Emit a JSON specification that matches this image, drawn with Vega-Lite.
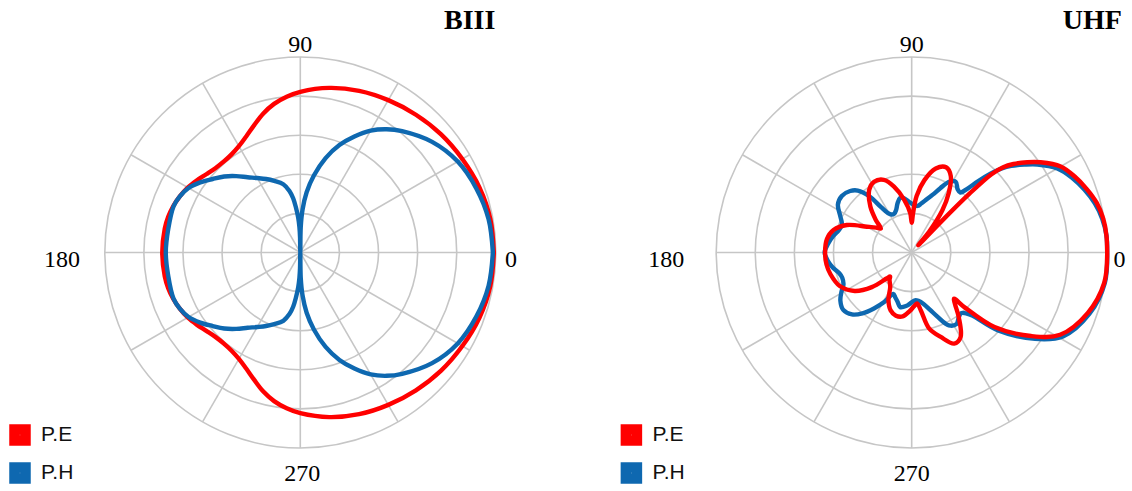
{
  "$schema": "https://vega.github.io/schema/vega-lite/v6.json",
  "background": "white",
  "padding": 0,
  "spacing": 10.4,
  "config": {"view": {"stroke": null}},
  "resolve": {"legend": {"color": "independent"}},
  "datasets": {
    "rings": [{"ring": 0.2}, {"ring": 0.4}, {"ring": 0.6}, {"ring": 0.8}, {"ring": 1.0}],
    "spokes": [{"angle": 0}, {"angle": 30}, {"angle": 60}, {"angle": 90}, {"angle": 120}, {"angle": 150}],
    "pattern": [
      {"chart": "BIII", "series": "P.E", "angle": 0, "r": 0.99},
      {"chart": "BIII", "series": "P.E", "angle": 10, "r": 0.987},
      {"chart": "BIII", "series": "P.E", "angle": 20, "r": 0.975},
      {"chart": "BIII", "series": "P.E", "angle": 30, "r": 0.957},
      {"chart": "BIII", "series": "P.E", "angle": 40, "r": 0.94},
      {"chart": "BIII", "series": "P.E", "angle": 50, "r": 0.92},
      {"chart": "BIII", "series": "P.E", "angle": 60, "r": 0.9},
      {"chart": "BIII", "series": "P.E", "angle": 70, "r": 0.88},
      {"chart": "BIII", "series": "P.E", "angle": 80, "r": 0.855},
      {"chart": "BIII", "series": "P.E", "angle": 90, "r": 0.822},
      {"chart": "BIII", "series": "P.E", "angle": 95, "r": 0.8},
      {"chart": "BIII", "series": "P.E", "angle": 100, "r": 0.772},
      {"chart": "BIII", "series": "P.E", "angle": 105, "r": 0.735},
      {"chart": "BIII", "series": "P.E", "angle": 110, "r": 0.692},
      {"chart": "BIII", "series": "P.E", "angle": 115, "r": 0.655},
      {"chart": "BIII", "series": "P.E", "angle": 120, "r": 0.628},
      {"chart": "BIII", "series": "P.E", "angle": 125, "r": 0.613},
      {"chart": "BIII", "series": "P.E", "angle": 130, "r": 0.608},
      {"chart": "BIII", "series": "P.E", "angle": 135, "r": 0.612},
      {"chart": "BIII", "series": "P.E", "angle": 140, "r": 0.625},
      {"chart": "BIII", "series": "P.E", "angle": 145, "r": 0.645},
      {"chart": "BIII", "series": "P.E", "angle": 150, "r": 0.665},
      {"chart": "BIII", "series": "P.E", "angle": 155, "r": 0.68},
      {"chart": "BIII", "series": "P.E", "angle": 160, "r": 0.692},
      {"chart": "BIII", "series": "P.E", "angle": 165, "r": 0.7},
      {"chart": "BIII", "series": "P.E", "angle": 170, "r": 0.704},
      {"chart": "BIII", "series": "P.E", "angle": 180, "r": 0.706},
      {"chart": "BIII", "series": "P.E", "angle": 190, "r": 0.704},
      {"chart": "BIII", "series": "P.E", "angle": 195, "r": 0.7},
      {"chart": "BIII", "series": "P.E", "angle": 200, "r": 0.692},
      {"chart": "BIII", "series": "P.E", "angle": 205, "r": 0.68},
      {"chart": "BIII", "series": "P.E", "angle": 210, "r": 0.665},
      {"chart": "BIII", "series": "P.E", "angle": 215, "r": 0.645},
      {"chart": "BIII", "series": "P.E", "angle": 220, "r": 0.625},
      {"chart": "BIII", "series": "P.E", "angle": 225, "r": 0.612},
      {"chart": "BIII", "series": "P.E", "angle": 230, "r": 0.608},
      {"chart": "BIII", "series": "P.E", "angle": 235, "r": 0.613},
      {"chart": "BIII", "series": "P.E", "angle": 240, "r": 0.628},
      {"chart": "BIII", "series": "P.E", "angle": 245, "r": 0.655},
      {"chart": "BIII", "series": "P.E", "angle": 250, "r": 0.692},
      {"chart": "BIII", "series": "P.E", "angle": 255, "r": 0.735},
      {"chart": "BIII", "series": "P.E", "angle": 260, "r": 0.772},
      {"chart": "BIII", "series": "P.E", "angle": 265, "r": 0.8},
      {"chart": "BIII", "series": "P.E", "angle": 270, "r": 0.822},
      {"chart": "BIII", "series": "P.E", "angle": 280, "r": 0.855},
      {"chart": "BIII", "series": "P.E", "angle": 290, "r": 0.88},
      {"chart": "BIII", "series": "P.E", "angle": 300, "r": 0.9},
      {"chart": "BIII", "series": "P.E", "angle": 310, "r": 0.92},
      {"chart": "BIII", "series": "P.E", "angle": 320, "r": 0.94},
      {"chart": "BIII", "series": "P.E", "angle": 330, "r": 0.957},
      {"chart": "BIII", "series": "P.E", "angle": 340, "r": 0.975},
      {"chart": "BIII", "series": "P.E", "angle": 350, "r": 0.987},
      {"chart": "BIII", "series": "P.E", "angle": 360, "r": 0.99},

      {"chart": "BIII", "series": "P.H", "angle": 0, "r": 0.985},
      {"chart": "BIII", "series": "P.H", "angle": 10, "r": 0.978},
      {"chart": "BIII", "series": "P.H", "angle": 20, "r": 0.958},
      {"chart": "BIII", "series": "P.H", "angle": 30, "r": 0.93},
      {"chart": "BIII", "series": "P.H", "angle": 40, "r": 0.88},
      {"chart": "BIII", "series": "P.H", "angle": 50, "r": 0.81},
      {"chart": "BIII", "series": "P.H", "angle": 55, "r": 0.77},
      {"chart": "BIII", "series": "P.H", "angle": 60, "r": 0.72},
      {"chart": "BIII", "series": "P.H", "angle": 65, "r": 0.655},
      {"chart": "BIII", "series": "P.H", "angle": 70, "r": 0.585},
      {"chart": "BIII", "series": "P.H", "angle": 75, "r": 0.5},
      {"chart": "BIII", "series": "P.H", "angle": 80, "r": 0.4},
      {"chart": "BIII", "series": "P.H", "angle": 84, "r": 0.31},
      {"chart": "BIII", "series": "P.H", "angle": 87, "r": 0.22},
      {"chart": "BIII", "series": "P.H", "angle": 89, "r": 0.13},
      {"chart": "BIII", "series": "P.H", "angle": 90, "r": 0.0},
      {"chart": "BIII", "series": "P.H", "angle": 91, "r": 0.08},
      {"chart": "BIII", "series": "P.H", "angle": 92, "r": 0.13},
      {"chart": "BIII", "series": "P.H", "angle": 93.5, "r": 0.18},
      {"chart": "BIII", "series": "P.H", "angle": 95.5, "r": 0.23},
      {"chart": "BIII", "series": "P.H", "angle": 97.5, "r": 0.28},
      {"chart": "BIII", "series": "P.H", "angle": 100, "r": 0.32},
      {"chart": "BIII", "series": "P.H", "angle": 104, "r": 0.36},
      {"chart": "BIII", "series": "P.H", "angle": 110, "r": 0.39},
      {"chart": "BIII", "series": "P.H", "angle": 115, "r": 0.415},
      {"chart": "BIII", "series": "P.H", "angle": 120, "r": 0.44},
      {"chart": "BIII", "series": "P.H", "angle": 125, "r": 0.47},
      {"chart": "BIII", "series": "P.H", "angle": 130, "r": 0.51},
      {"chart": "BIII", "series": "P.H", "angle": 135, "r": 0.55},
      {"chart": "BIII", "series": "P.H", "angle": 140, "r": 0.585},
      {"chart": "BIII", "series": "P.H", "angle": 145, "r": 0.625},
      {"chart": "BIII", "series": "P.H", "angle": 150, "r": 0.66},
      {"chart": "BIII", "series": "P.H", "angle": 155, "r": 0.68},
      {"chart": "BIII", "series": "P.H", "angle": 160, "r": 0.69},
      {"chart": "BIII", "series": "P.H", "angle": 170, "r": 0.686},
      {"chart": "BIII", "series": "P.H", "angle": 180, "r": 0.688},
      {"chart": "BIII", "series": "P.H", "angle": 190, "r": 0.686},
      {"chart": "BIII", "series": "P.H", "angle": 200, "r": 0.69},
      {"chart": "BIII", "series": "P.H", "angle": 205, "r": 0.68},
      {"chart": "BIII", "series": "P.H", "angle": 210, "r": 0.66},
      {"chart": "BIII", "series": "P.H", "angle": 215, "r": 0.625},
      {"chart": "BIII", "series": "P.H", "angle": 220, "r": 0.585},
      {"chart": "BIII", "series": "P.H", "angle": 225, "r": 0.55},
      {"chart": "BIII", "series": "P.H", "angle": 230, "r": 0.51},
      {"chart": "BIII", "series": "P.H", "angle": 235, "r": 0.47},
      {"chart": "BIII", "series": "P.H", "angle": 240, "r": 0.44},
      {"chart": "BIII", "series": "P.H", "angle": 245, "r": 0.415},
      {"chart": "BIII", "series": "P.H", "angle": 250, "r": 0.39},
      {"chart": "BIII", "series": "P.H", "angle": 256, "r": 0.36},
      {"chart": "BIII", "series": "P.H", "angle": 260, "r": 0.32},
      {"chart": "BIII", "series": "P.H", "angle": 262.5, "r": 0.28},
      {"chart": "BIII", "series": "P.H", "angle": 264.5, "r": 0.23},
      {"chart": "BIII", "series": "P.H", "angle": 266.5, "r": 0.18},
      {"chart": "BIII", "series": "P.H", "angle": 268, "r": 0.13},
      {"chart": "BIII", "series": "P.H", "angle": 269, "r": 0.08},
      {"chart": "BIII", "series": "P.H", "angle": 270, "r": 0.0},
      {"chart": "BIII", "series": "P.H", "angle": 271, "r": 0.13},
      {"chart": "BIII", "series": "P.H", "angle": 273, "r": 0.22},
      {"chart": "BIII", "series": "P.H", "angle": 276, "r": 0.31},
      {"chart": "BIII", "series": "P.H", "angle": 280, "r": 0.4},
      {"chart": "BIII", "series": "P.H", "angle": 285, "r": 0.5},
      {"chart": "BIII", "series": "P.H", "angle": 290, "r": 0.585},
      {"chart": "BIII", "series": "P.H", "angle": 295, "r": 0.655},
      {"chart": "BIII", "series": "P.H", "angle": 300, "r": 0.72},
      {"chart": "BIII", "series": "P.H", "angle": 305, "r": 0.77},
      {"chart": "BIII", "series": "P.H", "angle": 310, "r": 0.81},
      {"chart": "BIII", "series": "P.H", "angle": 320, "r": 0.88},
      {"chart": "BIII", "series": "P.H", "angle": 330, "r": 0.93},
      {"chart": "BIII", "series": "P.H", "angle": 340, "r": 0.958},
      {"chart": "BIII", "series": "P.H", "angle": 350, "r": 0.978},
      {"chart": "BIII", "series": "P.H", "angle": 360, "r": 0.985},

      {"chart": "UHF", "series": "P.E", "angle": 0, "r": 1.0},
      {"chart": "UHF", "series": "P.E", "angle": 5, "r": 1.0},
      {"chart": "UHF", "series": "P.E", "angle": 10, "r": 0.995},
      {"chart": "UHF", "series": "P.E", "angle": 15, "r": 0.98},
      {"chart": "UHF", "series": "P.E", "angle": 20, "r": 0.952},
      {"chart": "UHF", "series": "P.E", "angle": 25, "r": 0.92},
      {"chart": "UHF", "series": "P.E", "angle": 30, "r": 0.88},
      {"chart": "UHF", "series": "P.E", "angle": 35, "r": 0.805},
      {"chart": "UHF", "series": "P.E", "angle": 38, "r": 0.75},
      {"chart": "UHF", "series": "P.E", "angle": 41, "r": 0.69},
      {"chart": "UHF", "series": "P.E", "angle": 43, "r": 0.64},
      {"chart": "UHF", "series": "P.E", "angle": 44.5, "r": 0.57},
      {"chart": "UHF", "series": "P.E", "angle": 45.5, "r": 0.42},
      {"chart": "UHF", "series": "P.E", "angle": 46.3, "r": 0.22},
      {"chart": "UHF", "series": "P.E", "angle": 47, "r": 0.06},
      {"chart": "UHF", "series": "P.E", "angle": 48, "r": 0.05},
      {"chart": "UHF", "series": "P.E", "angle": 50, "r": 0.14},
      {"chart": "UHF", "series": "P.E", "angle": 54, "r": 0.267},
      {"chart": "UHF", "series": "P.E", "angle": 58, "r": 0.357},
      {"chart": "UHF", "series": "P.E", "angle": 63, "r": 0.44},
      {"chart": "UHF", "series": "P.E", "angle": 68, "r": 0.47},
      {"chart": "UHF", "series": "P.E", "angle": 74, "r": 0.447},
      {"chart": "UHF", "series": "P.E", "angle": 80, "r": 0.376},
      {"chart": "UHF", "series": "P.E", "angle": 85, "r": 0.29},
      {"chart": "UHF", "series": "P.E", "angle": 88, "r": 0.2},
      {"chart": "UHF", "series": "P.E", "angle": 90, "r": 0.152},
      {"chart": "UHF", "series": "P.E", "angle": 92, "r": 0.2},
      {"chart": "UHF", "series": "P.E", "angle": 98, "r": 0.272},
      {"chart": "UHF", "series": "P.E", "angle": 105, "r": 0.349},
      {"chart": "UHF", "series": "P.E", "angle": 111, "r": 0.398},
      {"chart": "UHF", "series": "P.E", "angle": 118, "r": 0.41},
      {"chart": "UHF", "series": "P.E", "angle": 124, "r": 0.388},
      {"chart": "UHF", "series": "P.E", "angle": 132, "r": 0.316},
      {"chart": "UHF", "series": "P.E", "angle": 138, "r": 0.245},
      {"chart": "UHF", "series": "P.E", "angle": 142, "r": 0.2},
      {"chart": "UHF", "series": "P.E", "angle": 145, "r": 0.222},
      {"chart": "UHF", "series": "P.E", "angle": 150, "r": 0.264},
      {"chart": "UHF", "series": "P.E", "angle": 157, "r": 0.36},
      {"chart": "UHF", "series": "P.E", "angle": 164, "r": 0.416},
      {"chart": "UHF", "series": "P.E", "angle": 171, "r": 0.439},
      {"chart": "UHF", "series": "P.E", "angle": 180, "r": 0.443},
      {"chart": "UHF", "series": "P.E", "angle": 188, "r": 0.44},
      {"chart": "UHF", "series": "P.E", "angle": 195, "r": 0.43},
      {"chart": "UHF", "series": "P.E", "angle": 205, "r": 0.406},
      {"chart": "UHF", "series": "P.E", "angle": 214, "r": 0.352},
      {"chart": "UHF", "series": "P.E", "angle": 221, "r": 0.27},
      {"chart": "UHF", "series": "P.E", "angle": 226, "r": 0.185},
      {"chart": "UHF", "series": "P.E", "angle": 228, "r": 0.165},
      {"chart": "UHF", "series": "P.E", "angle": 231, "r": 0.18},
      {"chart": "UHF", "series": "P.E", "angle": 238, "r": 0.207},
      {"chart": "UHF", "series": "P.E", "angle": 244, "r": 0.271},
      {"chart": "UHF", "series": "P.E", "angle": 250, "r": 0.315},
      {"chart": "UHF", "series": "P.E", "angle": 256, "r": 0.333},
      {"chart": "UHF", "series": "P.E", "angle": 262, "r": 0.33},
      {"chart": "UHF", "series": "P.E", "angle": 268, "r": 0.3},
      {"chart": "UHF", "series": "P.E", "angle": 272, "r": 0.278},
      {"chart": "UHF", "series": "P.E", "angle": 276, "r": 0.262},
      {"chart": "UHF", "series": "P.E", "angle": 279, "r": 0.3},
      {"chart": "UHF", "series": "P.E", "angle": 283, "r": 0.4},
      {"chart": "UHF", "series": "P.E", "angle": 289, "r": 0.457},
      {"chart": "UHF", "series": "P.E", "angle": 295, "r": 0.514},
      {"chart": "UHF", "series": "P.E", "angle": 300, "r": 0.5},
      {"chart": "UHF", "series": "P.E", "angle": 306, "r": 0.41},
      {"chart": "UHF", "series": "P.E", "angle": 310, "r": 0.345},
      {"chart": "UHF", "series": "P.E", "angle": 312.5, "r": 0.32},
      {"chart": "UHF", "series": "P.E", "angle": 314, "r": 0.39},
      {"chart": "UHF", "series": "P.E", "angle": 318, "r": 0.57},
      {"chart": "UHF", "series": "P.E", "angle": 325, "r": 0.745},
      {"chart": "UHF", "series": "P.E", "angle": 331, "r": 0.868},
      {"chart": "UHF", "series": "P.E", "angle": 341, "r": 0.952},
      {"chart": "UHF", "series": "P.E", "angle": 351, "r": 0.997},
      {"chart": "UHF", "series": "P.E", "angle": 360, "r": 1.0},

      {"chart": "UHF", "series": "P.H", "angle": 0, "r": 1.0},
      {"chart": "UHF", "series": "P.H", "angle": 5, "r": 1.0},
      {"chart": "UHF", "series": "P.H", "angle": 10, "r": 0.99},
      {"chart": "UHF", "series": "P.H", "angle": 15, "r": 0.97},
      {"chart": "UHF", "series": "P.H", "angle": 20, "r": 0.94},
      {"chart": "UHF", "series": "P.H", "angle": 25, "r": 0.905},
      {"chart": "UHF", "series": "P.H", "angle": 30, "r": 0.86},
      {"chart": "UHF", "series": "P.H", "angle": 35, "r": 0.785},
      {"chart": "UHF", "series": "P.H", "angle": 38, "r": 0.73},
      {"chart": "UHF", "series": "P.H", "angle": 41, "r": 0.675},
      {"chart": "UHF", "series": "P.H", "angle": 43, "r": 0.63},
      {"chart": "UHF", "series": "P.H", "angle": 45, "r": 0.57},
      {"chart": "UHF", "series": "P.H", "angle": 47, "r": 0.5},
      {"chart": "UHF", "series": "P.H", "angle": 49, "r": 0.43},
      {"chart": "UHF", "series": "P.H", "angle": 51, "r": 0.395},
      {"chart": "UHF", "series": "P.H", "angle": 54, "r": 0.4},
      {"chart": "UHF", "series": "P.H", "angle": 58, "r": 0.426},
      {"chart": "UHF", "series": "P.H", "angle": 62, "r": 0.41},
      {"chart": "UHF", "series": "P.H", "angle": 66, "r": 0.36},
      {"chart": "UHF", "series": "P.H", "angle": 70, "r": 0.315},
      {"chart": "UHF", "series": "P.H", "angle": 74, "r": 0.285},
      {"chart": "UHF", "series": "P.H", "angle": 79, "r": 0.255},
      {"chart": "UHF", "series": "P.H", "angle": 83, "r": 0.24},
      {"chart": "UHF", "series": "P.H", "angle": 88, "r": 0.245},
      {"chart": "UHF", "series": "P.H", "angle": 93, "r": 0.26},
      {"chart": "UHF", "series": "P.H", "angle": 98, "r": 0.28},
      {"chart": "UHF", "series": "P.H", "angle": 102, "r": 0.285},
      {"chart": "UHF", "series": "P.H", "angle": 106, "r": 0.262},
      {"chart": "UHF", "series": "P.H", "angle": 110, "r": 0.232},
      {"chart": "UHF", "series": "P.H", "angle": 114, "r": 0.218},
      {"chart": "UHF", "series": "P.H", "angle": 118, "r": 0.22},
      {"chart": "UHF", "series": "P.H", "angle": 121, "r": 0.235},
      {"chart": "UHF", "series": "P.H", "angle": 124, "r": 0.28},
      {"chart": "UHF", "series": "P.H", "angle": 127, "r": 0.36},
      {"chart": "UHF", "series": "P.H", "angle": 131, "r": 0.42},
      {"chart": "UHF", "series": "P.H", "angle": 135, "r": 0.445},
      {"chart": "UHF", "series": "P.H", "angle": 141, "r": 0.46},
      {"chart": "UHF", "series": "P.H", "angle": 147, "r": 0.45},
      {"chart": "UHF", "series": "P.H", "angle": 153, "r": 0.41},
      {"chart": "UHF", "series": "P.H", "angle": 158, "r": 0.385},
      {"chart": "UHF", "series": "P.H", "angle": 163, "r": 0.39},
      {"chart": "UHF", "series": "P.H", "angle": 168, "r": 0.41},
      {"chart": "UHF", "series": "P.H", "angle": 174, "r": 0.43},
      {"chart": "UHF", "series": "P.H", "angle": 180, "r": 0.445},
      {"chart": "UHF", "series": "P.H", "angle": 186, "r": 0.43},
      {"chart": "UHF", "series": "P.H", "angle": 191, "r": 0.41},
      {"chart": "UHF", "series": "P.H", "angle": 196, "r": 0.385},
      {"chart": "UHF", "series": "P.H", "angle": 200, "r": 0.378},
      {"chart": "UHF", "series": "P.H", "angle": 205, "r": 0.385},
      {"chart": "UHF", "series": "P.H", "angle": 209, "r": 0.41},
      {"chart": "UHF", "series": "P.H", "angle": 214, "r": 0.44},
      {"chart": "UHF", "series": "P.H", "angle": 220, "r": 0.457},
      {"chart": "UHF", "series": "P.H", "angle": 226, "r": 0.44},
      {"chart": "UHF", "series": "P.H", "angle": 231, "r": 0.4},
      {"chart": "UHF", "series": "P.H", "angle": 236, "r": 0.345},
      {"chart": "UHF", "series": "P.H", "angle": 241, "r": 0.29},
      {"chart": "UHF", "series": "P.H", "angle": 246, "r": 0.232},
      {"chart": "UHF", "series": "P.H", "angle": 250, "r": 0.245},
      {"chart": "UHF", "series": "P.H", "angle": 254, "r": 0.262},
      {"chart": "UHF", "series": "P.H", "angle": 258, "r": 0.285},
      {"chart": "UHF", "series": "P.H", "angle": 262, "r": 0.28},
      {"chart": "UHF", "series": "P.H", "angle": 266, "r": 0.27},
      {"chart": "UHF", "series": "P.H", "angle": 270, "r": 0.255},
      {"chart": "UHF", "series": "P.H", "angle": 274, "r": 0.245},
      {"chart": "UHF", "series": "P.H", "angle": 278, "r": 0.25},
      {"chart": "UHF", "series": "P.H", "angle": 283, "r": 0.27},
      {"chart": "UHF", "series": "P.H", "angle": 288, "r": 0.31},
      {"chart": "UHF", "series": "P.H", "angle": 292, "r": 0.355},
      {"chart": "UHF", "series": "P.H", "angle": 297, "r": 0.418},
      {"chart": "UHF", "series": "P.H", "angle": 302, "r": 0.432},
      {"chart": "UHF", "series": "P.H", "angle": 306, "r": 0.41},
      {"chart": "UHF", "series": "P.H", "angle": 309, "r": 0.4},
      {"chart": "UHF", "series": "P.H", "angle": 312, "r": 0.42},
      {"chart": "UHF", "series": "P.H", "angle": 314, "r": 0.45},
      {"chart": "UHF", "series": "P.H", "angle": 318, "r": 0.595},
      {"chart": "UHF", "series": "P.H", "angle": 325, "r": 0.77},
      {"chart": "UHF", "series": "P.H", "angle": 331, "r": 0.885},
      {"chart": "UHF", "series": "P.H", "angle": 341, "r": 0.962},
      {"chart": "UHF", "series": "P.H", "angle": 351, "r": 1.0},
      {"chart": "UHF", "series": "P.H", "angle": 360, "r": 1.0}
    ]
  },
  "hconcat": [
    {
      "width": 600.6,
      "height": 491,
      "layer": [
        {
          "data": {"name": "rings"},
          "mark": {"type": "point", "shape": "circle", "filled": false, "stroke": "#c6c6c6", "strokeWidth": 1.6, "opacity": 1},
          "encoding": {
            "x": {"datum": 0, "type": "quantitative", "scale": {"domain": [-1.536, 1.536], "nice": false, "zero": false}, "axis": null},
            "y": {"datum": 0, "type": "quantitative", "scale": {"domain": [-1.2199, 1.2916], "nice": false, "zero": false}, "axis": null},
            "size": {"field": "ring", "type": "quantitative", "scale": {"type": "pow", "exponent": 2, "domain": [0, 1], "range": [0, 152881]}, "legend": null}
          }
        },
        {
          "data": {"name": "spokes"},
          "transform": [
            {"calculate": "cos(datum.angle * PI / 180)", "as": "ax"},
            {"calculate": "sin(datum.angle * PI / 180)", "as": "ay"},
            {"calculate": "-cos(datum.angle * PI / 180)", "as": "bx"},
            {"calculate": "-sin(datum.angle * PI / 180)", "as": "by"}
          ],
          "mark": {"type": "rule", "stroke": "#c6c6c6", "strokeWidth": 1.6},
          "encoding": {
            "x": {"field": "ax", "type": "quantitative"},
            "y": {"field": "ay", "type": "quantitative"},
            "x2": {"field": "bx"},
            "y2": {"field": "by"}
          }
        },
        {
          "data": {"name": "pattern"},
          "transform": [
            {"filter": "datum.chart === 'BIII' && datum.series === 'P.E'"},
            {"calculate": "datum.r * cos(datum.angle * PI / 180)", "as": "px"},
            {"calculate": "datum.r * sin(datum.angle * PI / 180)", "as": "py"}
          ],
          "mark": {"type": "line", "interpolate": "catmull-rom", "strokeWidth": 4.4, "strokeJoin": "round", "strokeCap": "round"},
          "encoding": {
            "x": {"field": "px", "type": "quantitative"},
            "y": {"field": "py", "type": "quantitative"},
            "order": {"field": "angle", "type": "quantitative"},
            "color": {"field": "series", "type": "nominal", "scale": {"domain": ["P.E", "P.H"], "range": ["#ff0000", "#0e68b0"]},
              "legend": {"title": null, "orient": "none", "legendX": 9, "legendY": 424, "padding": 0, "symbolType": "square", "symbolSize": 121, "symbolStrokeWidth": 10.5, "labelFont": "Liberation Sans", "labelFontSize": 21, "labelColor": "#111", "labelOffset": 10, "rowPadding": -17}}
          }
        },
        {
          "data": {"name": "pattern"},
          "transform": [
            {"filter": "datum.chart === 'BIII' && datum.series === 'P.H'"},
            {"calculate": "datum.r * cos(datum.angle * PI / 180)", "as": "px"},
            {"calculate": "datum.r * sin(datum.angle * PI / 180)", "as": "py"}
          ],
          "mark": {"type": "line", "interpolate": "catmull-rom", "strokeWidth": 4.4, "strokeJoin": "round", "strokeCap": "round"},
          "encoding": {
            "x": {"field": "px", "type": "quantitative"},
            "y": {"field": "py", "type": "quantitative"},
            "order": {"field": "angle", "type": "quantitative"},
            "color": {"field": "series", "type": "nominal"}
          }
        },
        {
          "data": {"values": [{"label": "90", "lx": 0, "ly": 1.028}]},
          "mark": {"type": "text", "font": "Liberation Serif", "fontSize": 24, "align": "center", "baseline": "alphabetic", "color": "#000"},
          "encoding": {"x": {"field": "lx", "type": "quantitative"}, "y": {"field": "ly", "type": "quantitative"}, "text": {"field": "label"}}
        },
        {
          "data": {"values": [{"label": "270", "lx": 0.01, "ly": -1.169}]},
          "mark": {"type": "text", "font": "Liberation Serif", "fontSize": 24, "align": "center", "baseline": "alphabetic", "color": "#000"},
          "encoding": {"x": {"field": "lx", "type": "quantitative"}, "y": {"field": "ly", "type": "quantitative"}, "text": {"field": "label"}}
        },
        {
          "data": {"values": [{"label": "180", "lx": -1.127, "ly": -0.0716}]},
          "mark": {"type": "text", "font": "Liberation Serif", "fontSize": 24, "align": "right", "baseline": "alphabetic", "color": "#000"},
          "encoding": {"x": {"field": "lx", "type": "quantitative"}, "y": {"field": "ly", "type": "quantitative"}, "text": {"field": "label"}}
        },
        {
          "data": {"values": [{"label": "0", "lx": 1.047, "ly": -0.0716}]},
          "mark": {"type": "text", "font": "Liberation Serif", "fontSize": 24, "align": "left", "baseline": "alphabetic", "color": "#000"},
          "encoding": {"x": {"field": "lx", "type": "quantitative"}, "y": {"field": "ly", "type": "quantitative"}, "text": {"field": "label"}}
        },
        {
          "data": {"values": [{"label": "BIII", "lx": 0.998, "ly": 1.141}]},
          "mark": {"type": "text", "font": "Liberation Serif", "fontSize": 28, "fontWeight": "bold", "align": "right", "baseline": "alphabetic", "color": "#000"},
          "encoding": {"x": {"field": "lx", "type": "quantitative"}, "y": {"field": "ly", "type": "quantitative"}, "text": {"field": "label"}}
        }
      ]
    },
    {
      "width": 521,
      "height": 491,
      "layer": [
        {
          "data": {"name": "rings"},
          "mark": {"type": "point", "shape": "circle", "filled": false, "stroke": "#c6c6c6", "strokeWidth": 1.6, "opacity": 1},
          "encoding": {
            "x": {"datum": 0, "type": "quantitative", "scale": {"domain": [-1.536, 1.129], "nice": false, "zero": false}, "axis": null},
            "y": {"datum": 0, "type": "quantitative", "scale": {"domain": [-1.2199, 1.2916], "nice": false, "zero": false}, "axis": null},
            "size": {"field": "ring", "type": "quantitative", "scale": {"type": "pow", "exponent": 2, "domain": [0, 1], "range": [0, 152881]}, "legend": null}
          }
        },
        {
          "data": {"name": "spokes"},
          "transform": [
            {"calculate": "cos(datum.angle * PI / 180)", "as": "ax"},
            {"calculate": "sin(datum.angle * PI / 180)", "as": "ay"},
            {"calculate": "-cos(datum.angle * PI / 180)", "as": "bx"},
            {"calculate": "-sin(datum.angle * PI / 180)", "as": "by"}
          ],
          "mark": {"type": "rule", "stroke": "#c6c6c6", "strokeWidth": 1.6},
          "encoding": {
            "x": {"field": "ax", "type": "quantitative"},
            "y": {"field": "ay", "type": "quantitative"},
            "x2": {"field": "bx"},
            "y2": {"field": "by"}
          }
        },
        {
          "data": {"name": "pattern"},
          "transform": [
            {"filter": "datum.chart === 'UHF' && datum.series === 'P.H'"},
            {"calculate": "datum.r * cos(datum.angle * PI / 180)", "as": "px"},
            {"calculate": "datum.r * sin(datum.angle * PI / 180)", "as": "py"}
          ],
          "mark": {"type": "line", "interpolate": "catmull-rom", "strokeWidth": 4.4, "strokeJoin": "round", "strokeCap": "round"},
          "encoding": {
            "x": {"field": "px", "type": "quantitative"},
            "y": {"field": "py", "type": "quantitative"},
            "order": {"field": "angle", "type": "quantitative"},
            "color": {"field": "series", "type": "nominal", "scale": {"domain": ["P.E", "P.H"], "range": ["#ff0000", "#0e68b0"]},
              "legend": {"title": null, "orient": "none", "legendX": 9, "legendY": 424, "padding": 0, "symbolType": "square", "symbolSize": 121, "symbolStrokeWidth": 10.5, "labelFont": "Liberation Sans", "labelFontSize": 21, "labelColor": "#111", "labelOffset": 10, "rowPadding": -17}}
          }
        },
        {
          "data": {"name": "pattern"},
          "transform": [
            {"filter": "datum.chart === 'UHF' && datum.series === 'P.E'"},
            {"calculate": "datum.r * cos(datum.angle * PI / 180)", "as": "px"},
            {"calculate": "datum.r * sin(datum.angle * PI / 180)", "as": "py"}
          ],
          "mark": {"type": "line", "interpolate": "catmull-rom", "strokeWidth": 4.4, "strokeJoin": "round", "strokeCap": "round"},
          "encoding": {
            "x": {"field": "px", "type": "quantitative"},
            "y": {"field": "py", "type": "quantitative"},
            "order": {"field": "angle", "type": "quantitative"},
            "color": {"field": "series", "type": "nominal"}
          }
        },
        {
          "data": {"values": [{"label": "90", "lx": 0, "ly": 1.028}]},
          "mark": {"type": "text", "font": "Liberation Serif", "fontSize": 24, "align": "center", "baseline": "alphabetic", "color": "#000"},
          "encoding": {"x": {"field": "lx", "type": "quantitative"}, "y": {"field": "ly", "type": "quantitative"}, "text": {"field": "label"}}
        },
        {
          "data": {"values": [{"label": "270", "lx": 0, "ly": -1.169}]},
          "mark": {"type": "text", "font": "Liberation Serif", "fontSize": 24, "align": "center", "baseline": "alphabetic", "color": "#000"},
          "encoding": {"x": {"field": "lx", "type": "quantitative"}, "y": {"field": "ly", "type": "quantitative"}, "text": {"field": "label"}}
        },
        {
          "data": {"values": [{"label": "180", "lx": -1.163, "ly": -0.0716}]},
          "mark": {"type": "text", "font": "Liberation Serif", "fontSize": 24, "align": "right", "baseline": "alphabetic", "color": "#000"},
          "encoding": {"x": {"field": "lx", "type": "quantitative"}, "y": {"field": "ly", "type": "quantitative"}, "text": {"field": "label"}}
        },
        {
          "data": {"values": [{"label": "0", "lx": 1.032, "ly": -0.0716}]},
          "mark": {"type": "text", "font": "Liberation Serif", "fontSize": 24, "align": "left", "baseline": "alphabetic", "color": "#000"},
          "encoding": {"x": {"field": "lx", "type": "quantitative"}, "y": {"field": "ly", "type": "quantitative"}, "text": {"field": "label"}}
        },
        {
          "data": {"values": [{"label": "UHF", "lx": 1.075, "ly": 1.141}]},
          "mark": {"type": "text", "font": "Liberation Serif", "fontSize": 28, "fontWeight": "bold", "align": "right", "baseline": "alphabetic", "color": "#000"},
          "encoding": {"x": {"field": "lx", "type": "quantitative"}, "y": {"field": "ly", "type": "quantitative"}, "text": {"field": "label"}}
        }
      ]
    }
  ]
}
